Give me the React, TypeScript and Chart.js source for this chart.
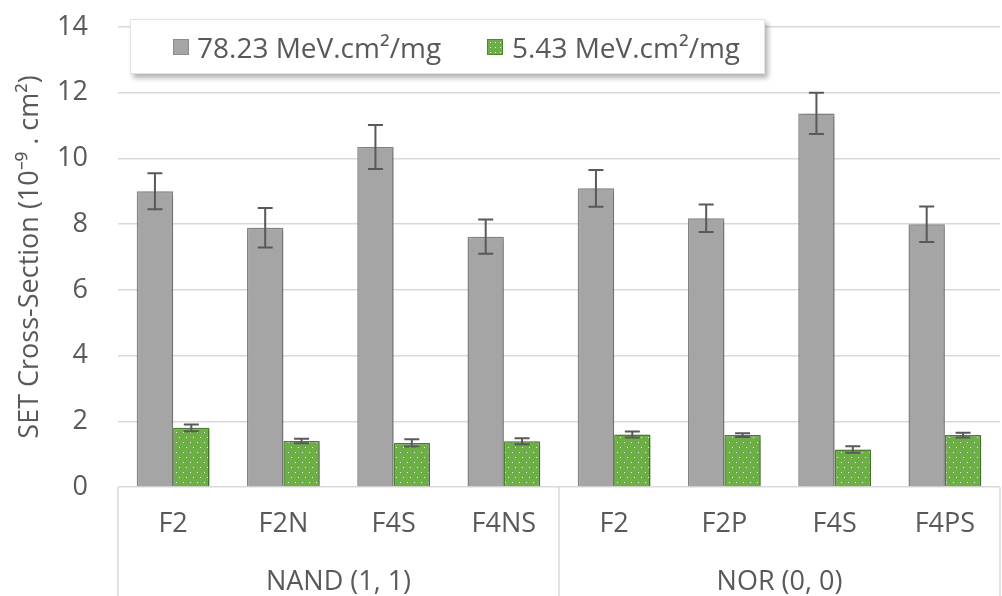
import React, { useEffect, useRef } from 'react';
import { Chart, registerables } from 'chart.js';

Chart.register(...registerables);

// ---- data ----
const categories = ['F2', 'F2N', 'F4S', 'F4NS', 'F2', 'F2P', 'F4S', 'F4PS'];
const groupLabels = ['NAND (1, 1)', 'NOR (0, 0)'];
const groupSizes = [4, 4];
const seriesHighName = '78.23 MeV.cm²/mg';
const seriesLowName = '5.43 MeV.cm²/mg';
const seriesHigh = [9.0, 7.89, 10.35, 7.62, 9.09, 8.18, 11.37, 8.0];
const seriesHighErr = [0.55, 0.6, 0.67, 0.52, 0.56, 0.42, 0.63, 0.54];
const seriesLow = [1.8, 1.4, 1.34, 1.39, 1.6, 1.58, 1.14, 1.58];
const seriesLowErr = [0.1, 0.07, 0.11, 0.09, 0.09, 0.055, 0.1, 0.07];
const yMin = 0;
const yMax = 14;
const yStep = 2;
const yTitle = 'SET Cross-Section (10⁻⁹ . cm²)';

// ---- style ----
const FONT = '"Open Sans", "Noto Sans", sans-serif';
const TEXT = '#595959';
const GRID = '#d9d9d9';
const GRAY = '#a5a5a5';
const GRAY_BORDER = '#8c8c8c';
const GREEN = '#6dae46';
const GREEN_BORDER = '#4f8a30';
const FS = 27;
const LEGEND_FS = 28;

export default function App() {
  const ref = useRef<HTMLCanvasElement>(null);

  useEffect(() => {
    const canvas = ref.current!;
    const tile = document.createElement('canvas');
    tile.width = 7;
    tile.height = 10;
    const tctx = tile.getContext('2d')!;
    tctx.fillStyle = GREEN;
    tctx.fillRect(0, 0, 7, 10);
    tctx.fillStyle = 'rgba(255,255,255,0.85)';
    tctx.fillRect(1, 2, 1, 1);
    tctx.fillRect(4, 7, 1, 1);
    const pattern = canvas.getContext('2d')!.createPattern(tile, 'repeat')!;

    const errs = [seriesHighErr, seriesLowErr];

    const decor = {
      id: 'decor',
      beforeDatasetsDraw(chart: any) {
        const ctx = chart.ctx;
        ctx.save();
        ctx.shadowColor = 'rgba(0,0,0,0.28)';
        ctx.shadowBlur = 6;
        ctx.shadowOffsetX = 2;
        ctx.shadowOffsetY = 1;
      },
      afterDatasetsDraw(chart: any) {
        const ctx = chart.ctx;
        ctx.restore();
        const y = chart.scales.y;
        ctx.save();
        ctx.strokeStyle = TEXT;
        ctx.lineWidth = 2;
        chart.data.datasets.forEach((ds: any, di: number) => {
          const meta = chart.getDatasetMeta(di);
          meta.data.forEach((bar: any, i: number) => {
            const v = ds.data[i];
            const e = errs[di][i];
            const top = y.getPixelForValue(v + e);
            const bot = y.getPixelForValue(v - e);
            const cx = bar.x;
            const cap = 7.5;
            ctx.beginPath();
            ctx.moveTo(cx, top);
            ctx.lineTo(cx, bot);
            ctx.moveTo(cx - cap, top);
            ctx.lineTo(cx + cap, top);
            ctx.moveTo(cx - cap, bot);
            ctx.lineTo(cx + cap, bot);
            ctx.stroke();
          });
        });
        ctx.restore();
      },
      afterDraw(chart: any) {
        const ctx = chart.ctx;
        const x = chart.scales.x;
        const b = chart.chartArea.bottom;
        const xs = [x.left];
        let idx = 0;
        groupSizes.forEach((n, gi) => {
          idx += n;
          if (gi < groupSizes.length - 1) {
            xs.push((x.getPixelForValue(idx - 1) + x.getPixelForValue(idx)) / 2);
          }
        });
        xs.push(x.right);
        ctx.save();
        ctx.strokeStyle = GRID;
        ctx.lineWidth = 1.5;
        xs.forEach((px) => {
          ctx.beginPath();
          ctx.moveTo(px, b);
          ctx.lineTo(px, chart.height);
          ctx.stroke();
        });
        ctx.restore();
      },
    };

    const chart = new Chart(canvas, {
      type: 'bar',
      data: {
        labels: categories,
        datasets: [
          {
            label: seriesHighName,
            data: seriesHigh,
            backgroundColor: GRAY,
            borderColor: GRAY_BORDER,
            borderWidth: 1.5,
            xAxisID: 'x',
            yAxisID: 'y',
            barPercentage: 1,
            categoryPercentage: 0.66,
          },
          {
            label: seriesLowName,
            data: seriesLow,
            backgroundColor: pattern as any,
            borderColor: GREEN_BORDER,
            borderWidth: 1.5,
            xAxisID: 'x',
            yAxisID: 'y',
            barPercentage: 1,
            categoryPercentage: 0.66,
          },
        ],
      },
      options: {
        responsive: false,
        animation: false,
        devicePixelRatio: 1,
        layout: { padding: { top: 27, right: 2, left: 0, bottom: 0 } },
        plugins: {
          legend: { display: false },
          tooltip: { enabled: false },
        },
        scales: {
          x: {
            type: 'category',
            position: 'bottom',
            weight: 0,
            grid: { display: false },
            border: { display: false },
            ticks: {
              color: TEXT,
              font: { family: FONT, size: FS },
              padding: 13,
              maxRotation: 0,
              autoSkip: false,
            },
            afterFit: (s: any) => {
              s.height = 66;
            },
          },
          x2: {
            type: 'category',
            position: 'bottom',
            weight: 1,
            labels: groupLabels,
            offset: true,
            grid: { display: false },
            border: { display: false },
            ticks: {
              color: TEXT,
              font: { family: FONT, size: FS },
              padding: 5,
              maxRotation: 0,
              autoSkip: false,
            },
            afterFit: (s: any) => {
              s.height = 43;
            },
          },
          y: {
            min: yMin,
            max: yMax,
            ticks: {
              stepSize: yStep,
              color: TEXT,
              font: { family: FONT, size: FS },
              padding: 2,
            },
            grid: {
              color: GRID,
              lineWidth: 1.5,
              drawTicks: true,
              tickLength: 28,
              tickColor: 'rgba(0,0,0,0)',
            },
            border: { display: false },
            title: {
              display: true,
              text: yTitle,
              color: TEXT,
              font: { family: FONT, size: FS },
              padding: { top: 14, bottom: 0 },
            },
            afterFit: (s: any) => {
              s.width = 118;
            },
          },
        },
      },
      plugins: [decor],
    } as any);

    return () => chart.destroy();
  }, []);

  const legendText: React.CSSProperties = {
    position: 'absolute',
    top: 0,
    height: 55,
    lineHeight: '55px',
    fontFamily: FONT,
    fontSize: LEGEND_FS,
    color: TEXT,
    whiteSpace: 'nowrap',
  };

  return (
    <div style={{ position: 'absolute', left: 0, top: 0, width: 1002, height: 596, background: '#fff' }}>
      <canvas ref={ref} width={1002} height={596} style={{ position: 'absolute', left: 0, top: 0 }} />
      <div
        style={{
          position: 'absolute',
          left: 130,
          top: 19,
          width: 635,
          height: 55,
          background: '#fff',
          border: '1px solid #e2e2e2',
          boxShadow: '3px 4px 5px rgba(0,0,0,0.3)',
          boxSizing: 'border-box',
        }}
      >
        <div
          style={{
            position: 'absolute',
            left: 42,
            top: 19,
            width: 16,
            height: 16,
            background: GRAY,
            border: `1.5px solid ${GRAY_BORDER}`,
            boxSizing: 'border-box',
          }}
        />
        <div style={{ ...legendText, left: 66 }}>{seriesHighName}</div>
        <div
          style={{
            position: 'absolute',
            left: 356,
            top: 19,
            width: 16,
            height: 16,
            backgroundColor: GREEN,
            backgroundImage: 'radial-gradient(rgba(255,255,255,0.9) 0.6px, transparent 0.8px)',
            backgroundSize: '5px 5px',
            border: `1.5px solid ${GREEN_BORDER}`,
            boxSizing: 'border-box',
          }}
        />
        <div style={{ ...legendText, left: 381 }}>{seriesLowName}</div>
      </div>
    </div>
  );
}
